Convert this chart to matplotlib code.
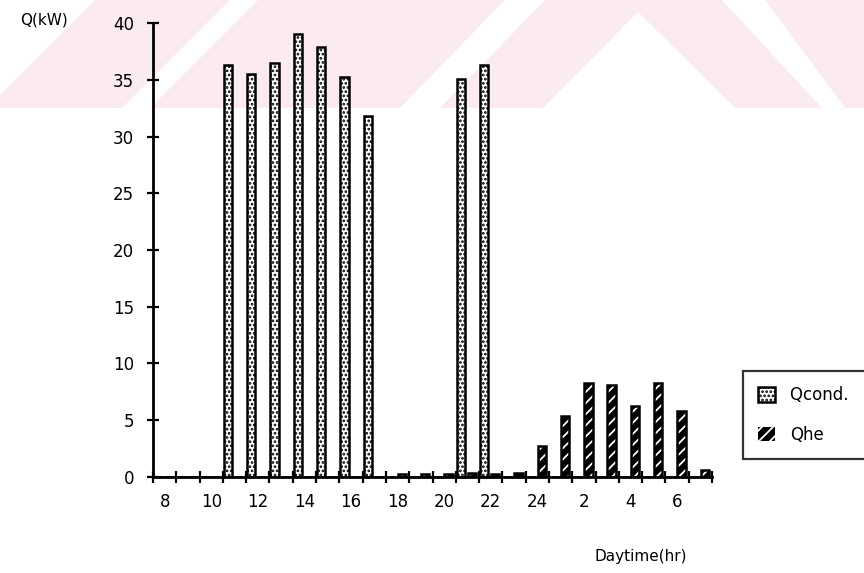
import numpy as np
import matplotlib.pyplot as plt
from matplotlib.patches import Polygon

HOURS = [8, 9, 10, 11, 12, 13, 14, 15, 16, 17, 18, 19, 20, 21, 22, 23,
         24, 1, 2, 3, 4, 5, 6, 7]
Q_COND = [0, 0, 0, 36.3, 35.5, 36.5, 39.1, 37.9, 35.3, 31.8, 0, 0,
          0, 35.1, 36.3, 0, 0, 0, 0, 0, 0, 0, 0, 0]
Q_HE = [0, 0, 0, 0, 0, 0, 0, 0, 0, 0, 0.25, 0.25,
        0.25, 0.3, 0.2, 0.3, 2.7, 5.3, 8.3, 8.1, 6.2, 8.3, 5.8, 0.6]
LABELED = [8, 10, 12, 14, 16, 18, 20, 22, 24, 2, 4, 6]

W, H = 864, 573


def px(points):
    return [(x / W, 1 - y / H) for x, y in points]


fig = plt.figure(figsize=(8.64, 5.73), dpi=100)

# faint pink watermark across the top
pink = "#fcebee"
fig.add_artist(Polygon(px([(0, 0), (W, 0), (W, 108), (0, 108)]),
                       closed=True, transform=fig.transFigure,
                       facecolor=pink, edgecolor="none", zorder=-5))
white_shapes = [
    [(0, 0), (95, 0), (0, 95)],
    [(230, 0), (258, 0), (150, 108), (122, 108)],
    [(505, 0), (545, 0), (440, 108), (400, 108)],
    [(543, 108), (638, 12), (735, 108)],
    [(722, 0), (765, 0), (845, 108), (822, 108)],
]
for shape in white_shapes:
    fig.add_artist(Polygon(px(shape), closed=True, transform=fig.transFigure,
                           facecolor="white", edgecolor="none", zorder=-4))

ax = fig.add_axes([153 / W, 1 - 476.5 / H, (712 - 153) / W, (476.5 - 23.5) / H])
ax.patch.set_alpha(0)

plt.rcParams["hatch.linewidth"] = 1.3
x = np.arange(len(HOURS))
width = 0.36
ax.bar(x - 0.28, Q_COND, width, facecolor="white", edgecolor="black",
       hatch="....", linewidth=1.8, label="Qcond.   ")
# Qhe: black fill with white slashes, black outline drawn on top
ax.bar(x + 0.19, Q_HE, width, facecolor="black", edgecolor="white",
       hatch="///", linewidth=0, label="Qhe")
ax.bar(x + 0.19, Q_HE, width, fill=False, edgecolor="black", linewidth=1.8)

ax.set_xlim(-0.5, len(HOURS) - 0.5)
ax.set_ylim(0, 40)
ax.set_xticks(np.arange(len(HOURS) + 1) - 0.5)
ax.set_xticklabels([])
ax.set_xticks([i for i, h in enumerate(HOURS) if h in LABELED], minor=True)
ax.set_xticklabels([str(h) for h in HOURS if h in LABELED], minor=True)
ax.tick_params(axis="x", which="major", direction="inout", length=9, width=1.6)
ax.tick_params(axis="x", which="minor", length=0, pad=12, labelsize=12)
ax.set_yticks(np.arange(0, 41, 5))
ax.tick_params(axis="y", direction="inout", length=9, width=1.6, pad=9,
               labelsize=12)

for side in ("top", "right"):
    ax.spines[side].set_visible(False)
for side in ("left", "bottom"):
    ax.spines[side].set_linewidth(2)

fig.text(20 / W, 1 - 20 / H, "Q(kW)", fontsize=11, va="center", ha="left")
fig.text(641 / W, 1 - 556 / H, "Daytime(hr)", fontsize=11, va="center",
         ha="center")

leg = ax.legend(loc="lower left", bbox_to_anchor=(735 / W, 1 - 467 / H),
                bbox_transform=fig.transFigure, fontsize=12, frameon=True,
                fancybox=False, handlelength=1.0, handleheight=1.0,
                borderpad=0.9, labelspacing=1.3, handletextpad=0.9)
leg.get_frame().set_edgecolor("black")
leg.get_frame().set_linewidth(1.6)

fig.savefig("out.png", dpi=100)
